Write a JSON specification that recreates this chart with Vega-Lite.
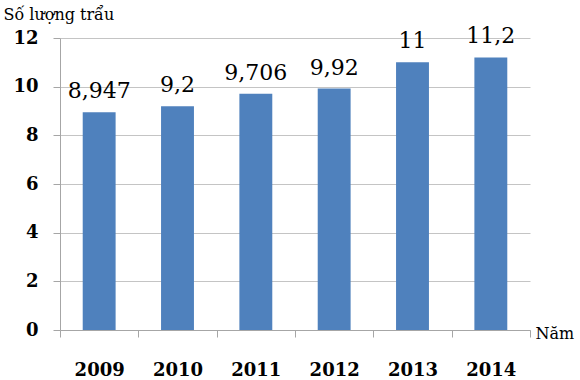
{
  "$schema": "https://vega.github.io/schema/vega-lite/v6.json",
  "width": 470,
  "height": 292,
  "autosize": {"type": "none"},
  "padding": {"left": 60, "top": 38, "right": 50, "bottom": 50},
  "background": "white",
  "config": {
    "view": {"stroke": null},
    "font": "DejaVu Serif",
    "locale": {"number": {"decimal": ",", "thousands": ".", "grouping": [3], "currency": ["", ""]}}
  },
  "data": {
    "values": [
      {"year": "2009", "value": 8.947},
      {"year": "2010", "value": 9.2},
      {"year": "2011", "value": 9.706},
      {"year": "2012", "value": 9.92},
      {"year": "2013", "value": 11},
      {"year": "2014", "value": 11.2}
    ]
  },
  "encoding": {
    "x": {
      "field": "year",
      "type": "ordinal",
      "scale": {"paddingInner": 0, "paddingOuter": 0},
      "axis": {
        "title": "Năm",
        "titleFont": "DejaVu Serif",
        "titleFontSize": 16,
        "titleFontWeight": "normal",
        "titleColor": "black",
        "titleAlign": "left",
        "titleBaseline": "alphabetic",
        "titleAnchor": "start",
        "titleX": 475,
        "titleY": 8,
        "labelAngle": 0,
        "labelFont": "DejaVu Serif",
        "labelFontSize": 18,
        "labelFontWeight": "bold",
        "labelColor": "black",
        "labelPadding": 24,
        "tickBand": "extent",
        "tickSize": 7,
        "tickColor": "#A6A6A6",
        "domainColor": "#A6A6A6",
        "grid": false
      }
    },
    "y": {
      "field": "value",
      "type": "quantitative",
      "scale": {"domain": [0, 12], "nice": false},
      "axis": {
        "values": [0, 2, 4, 6, 8, 10, 12],
        "title": "Số lượng trẩu",
        "titleFont": "DejaVu Serif",
        "titleFontSize": 16,
        "titleFontWeight": "normal",
        "titleColor": "black",
        "titleAngle": 0,
        "titleAlign": "left",
        "titleBaseline": "alphabetic",
        "titleAnchor": "start",
        "titleX": -57,
        "titleY": -19,
        "labelFont": "DejaVu Serif",
        "labelFontSize": 18,
        "labelFontWeight": "bold",
        "labelColor": "black",
        "labelPadding": 15,
        "tickSize": 7,
        "tickColor": "#A6A6A6",
        "domainColor": "#A6A6A6",
        "grid": true,
        "gridColor": "#C4C4C4"
      }
    }
  },
  "layer": [
    {
      "mark": {"type": "bar", "color": "#4F81BD", "width": {"band": 0.42}}
    },
    {
      "mark": {
        "type": "text",
        "font": "DejaVu Serif",
        "fontSize": 22,
        "baseline": "alphabetic",
        "dy": -14,
        "color": "black"
      },
      "encoding": {
        "text": {"field": "value", "type": "quantitative", "format": ".4~g"}
      }
    }
  ]
}
